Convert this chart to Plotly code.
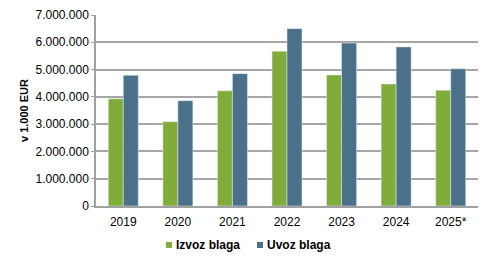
import plotly.graph_objects as go

years = ["2019", "2020", "2021", "2022", "2023", "2024", "2025*"]
izvoz = [3930000, 3090000, 4220000, 5670000, 4800000, 4470000, 4240000]
uvoz = [4790000, 3860000, 4850000, 6500000, 5970000, 5830000, 5030000]
tick_vals = [0, 1000000, 2000000, 3000000, 4000000, 5000000, 6000000, 7000000]
series_names = ["Izvoz blaga", "Uvoz blaga"]
series_colors = ["#80ad3a", "#4a7189"]

W, H = 493, 264
L, R, T, B = 96, 15, 15, 58
pw, ph = W - L - R, H - T - B

def px_x(p):
    return (p - L) / pw

def px_y(p):
    return (H - B - p) / ph

fig = go.Figure()
fig.add_trace(go.Bar(x=years, y=izvoz, name=series_names[0], marker_color=series_colors[0]))
fig.add_trace(go.Bar(x=years, y=uvoz, name=series_names[1], marker_color=series_colors[1]))

# manual legend (small square + bold label), matching reference layout
legend_sq = [166, 257]
legend_cy = 245
for name, col, sx in zip(series_names, series_colors, legend_sq):
    fig.add_shape(type="rect", xref="paper", yref="paper",
                  x0=px_x(sx), x1=px_x(sx + 6), y0=px_y(legend_cy + 3), y1=px_y(legend_cy - 3),
                  fillcolor=col, line=dict(width=0))
    fig.add_annotation(xref="paper", yref="paper", x=px_x(sx + 7.5), y=px_y(legend_cy),
                       xanchor="left", yanchor="middle", text=name, showarrow=False,
                       font=dict(size=12, weight="bold", color="#000"))

fig.update_layout(
    width=W, height=H,
    margin=dict(l=L, r=R, t=T, b=B, autoexpand=False),
    paper_bgcolor="white", plot_bgcolor="white",
    separators=",.",
    barmode="group", bargap=0.45, bargroupgap=0,
    font=dict(family="Liberation Sans, Arial, sans-serif", size=12, color="#000"),
    showlegend=False,
)
fig.update_xaxes(showline=True, linecolor="#a0a0a0", linewidth=2, ticks="", showgrid=False,
                 tickfont=dict(size=12), ticklabelstandoff=4)
fig.update_yaxes(range=[0, 7000000], tickvals=tick_vals, tickformat=",d",
                 showgrid=True, gridcolor="#a6a6a6", gridwidth=1.5,
                 showline=True, linecolor="#a0a0a0", linewidth=1.5,
                 ticks="outside", ticklen=3, tickcolor="#a0a0a0",
                 zeroline=False, tickfont=dict(size=12),
                 title=dict(text="v 1.000 EUR", font=dict(size=11, weight="bold"), standoff=5))

fig.write_html("out.html")
